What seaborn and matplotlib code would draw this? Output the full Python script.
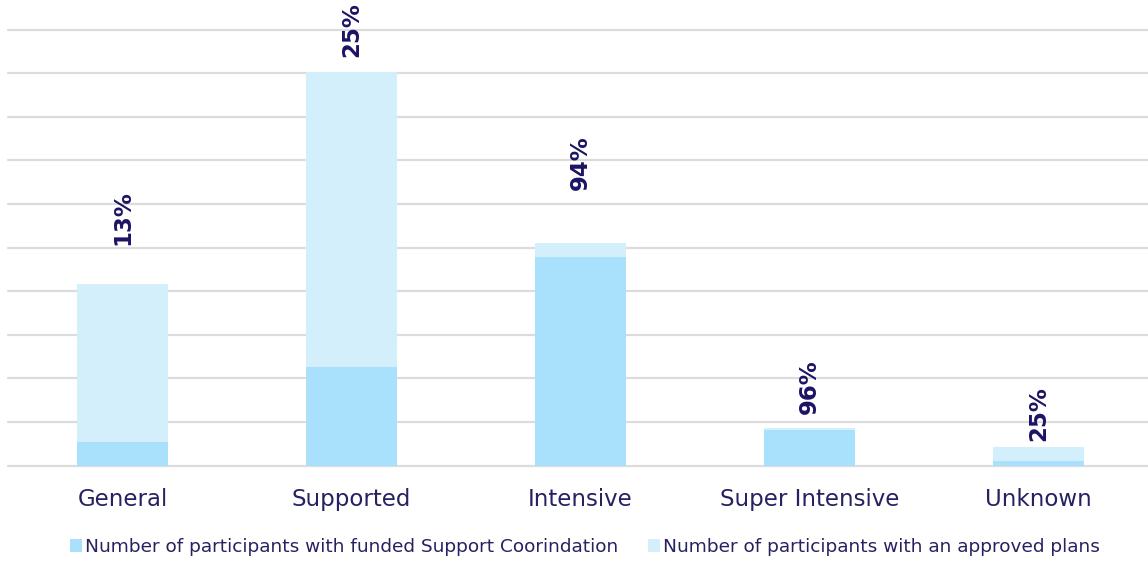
import matplotlib
matplotlib.use("Agg")
import matplotlib.pyplot as plt
from matplotlib.patches import Patch
import seaborn as sns
import pandas as pd

# Participants by support category
categories = ["General", "Supported", "Intensive", "Super Intensive", "Unknown"]
approved_plans = [4160, 9030, 5100, 860, 420]
funded_support = [540, 2260, 4790, 825, 105]

series_funded = "Number of participants with funded Support Coorindation"
series_approved = "Number of participants with an approved plans"

# Styling
color_funded = "#a9e1fd"
color_approved = "#d4effc"
grid_color = "#dcdcdc"
tick_color = "#262262"
label_color = "#1b1464"
label_gap_px = [39, 15, 53, 14, 6]

sns.set_theme(style="white")
plt.rcParams["font.family"] = ["DejaVu Sans"]

df = pd.DataFrame({
    "category": categories,
    "approved": approved_plans,
    "funded": funded_support,
})

fig = plt.figure(figsize=(11.48, 5.61), dpi=100)
ax = fig.add_axes([8 / 1148, (561 - 465.5) / 561, 1140 / 1148, 465.5 / 561])

sns.barplot(data=df, x="category", y="approved", color=color_approved,
            width=0.4, saturation=1, linewidth=0, ax=ax, zorder=2)
sns.barplot(data=df, x="category", y="funded", color=color_funded,
            width=0.4, saturation=1, linewidth=0, ax=ax, zorder=3)

ax.set_xlim(-0.5, 4.478)
ax.set_ylim(0, 10680)
ax.set_yticks(range(0, 10001, 1000))
ax.yaxis.grid(True, color=grid_color, linewidth=1.6)
for gl in ax.get_ygridlines():
    gl.set_clip_on(False)
ax.set_axisbelow(True)
ax.set_yticklabels([])
ax.tick_params(axis="y", length=0)
ax.tick_params(axis="x", length=0, pad=16, labelsize=16.5, labelcolor=tick_color)
ax.set_xlabel("")
ax.set_ylabel("")
for s in ax.spines.values():
    s.set_visible(False)

# Share of participants with funded support coordination
for i, (tot, fun) in enumerate(zip(approved_plans, funded_support)):
    pct = round(fun / tot * 100)
    ax.annotate(f"{pct}%", xy=(i, tot), xytext=(0, label_gap_px[i]),
                textcoords="offset pixels", rotation=90, ha="center",
                va="bottom", fontsize=16.5, fontweight="bold", color=label_color)

handles = [Patch(facecolor=color_funded, edgecolor="none"),
           Patch(facecolor=color_approved, edgecolor="none")]
fig.legend(handles, [series_funded, series_approved], loc="center",
           bbox_to_anchor=(0.5096, 1 - 547 / 561), ncol=2, frameon=False,
           fontsize=13.3, labelcolor=tick_color, handlelength=0.65,
           handleheight=0.65, handletextpad=0.15, columnspacing=1.65)

fig.savefig("out.png", dpi=100)
